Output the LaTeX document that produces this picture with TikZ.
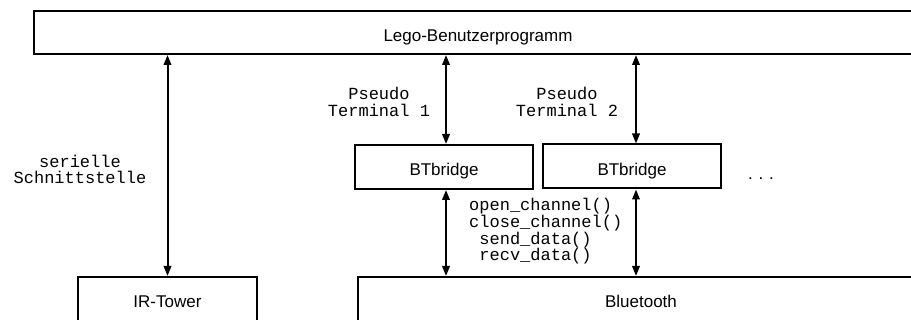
\documentclass[tikz,border=0pt]{standalone}
\usepackage{fontspec}
\setmainfont{Liberation Sans}
\newfontfamily\monofont{Liberation Mono}
\usetikzlibrary{arrows.meta}
\begin{document}
\begin{tikzpicture}[x=1pt,y=-1pt,
  box/.style={draw, line width=2pt, inner sep=0pt,
    font=\fontsize{17pt}{20pt}\selectfont, text height=17.2pt, text depth=0pt},
  link/.style={line width=2pt,
    {Triangle[length=10pt,width=7.5pt]}-{Triangle[length=10pt,width=7.5pt]}},
  mono/.style={font=\monofont\fontsize{17pt}{16.7pt}\selectfont, inner sep=0pt, align=center},
  dotsty/.style={font=\fontsize{17pt}{20pt}\selectfont, inner sep=0pt}]
\useasboundingbox (0,0) rectangle (911,320);
\clip (0,0) rectangle (911,320);
\node[box, minimum width=888pt, minimum height=43pt] (lego) at (478,32.5) {Lego-Benutzerprogramm};
\node[box, minimum width=179pt, minimum height=44pt] (ir) at (167.5,299) {IR-Tower};
\node[box, minimum width=566pt, minimum height=44pt] (bt) at (641,299) {Bluetooth};
\node[box, minimum width=178pt, minimum height=44pt] (bt1) at (444,167) {BTbridge};
\node[box, minimum width=178pt, minimum height=44pt] (bt2) at (632,166.5) {BTbridge};
\draw[link] (lego.south -| ir.north) -- (ir.north);
\draw[link] ([xshift=2pt]bt1.north |- lego.south) -- ([xshift=2pt]bt1.north);
\draw[link] ([xshift=2pt]bt1.south) -- ([xshift=2pt]bt1.south |- bt.north);
\draw[link] ([xshift=4pt]bt2.north |- lego.south) -- ([xshift=4pt]bt2.north);
\draw[link] ([xshift=4pt]bt2.south) -- ([xshift=4pt]bt2.south |- bt.north);
\node[mono, anchor=base] (ser) at (80,184) {serielle\\Schnittstelle};
\node[mono, anchor=base] (pt1) at (379,116.5) {Pseudo\\Terminal 1};
\node[mono, anchor=base] (pt2) at (567,116.5) {Pseudo\\Terminal 2};
\node[mono, align=left, anchor=base west] (fn) at (469,261)
  {open\_channel()\\close\_channel()\\\hphantom{x}send\_data()\\\hphantom{x}recv\_data()};
\node[dotsty, anchor=base] (dots) at (761,179.5) {.\hspace{5.8pt}.\hspace{5.8pt}.};
\end{tikzpicture}
\end{document}
